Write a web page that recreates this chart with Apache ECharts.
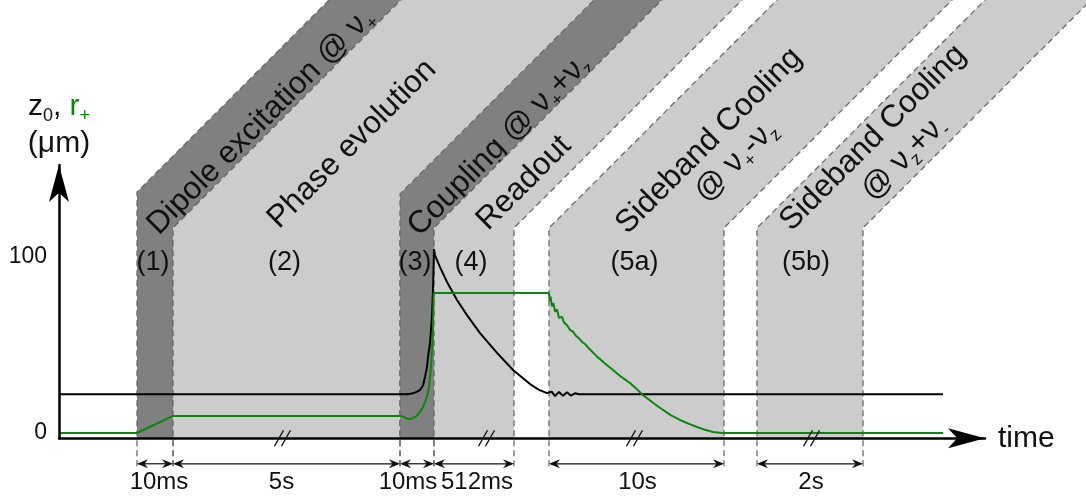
<!DOCTYPE html>
<html>
<head>
<meta charset="utf-8">
<script src="https://cdn.jsdelivr.net/npm/echarts@6/dist/echarts.min.js"></script>
<style>
  html, body { margin: 0; padding: 0; background: #ffffff; }
  #chart { width: 1086px; height: 503px; }
</style>
</head>
<body>
<div id="chart"></div>
<script>
// Measurement sequence on a broken (schematic) time axis, amplitudes in µm.
const phaseLabels    = ['(1)', '(2)', '(3)', '(4)', '(5a)', '(5b)'];
const phaseStart     = [78, 114, 341, 375, 490, 698];
const phaseEnd       = [114, 341, 375, 455, 665, 804];
const phaseDark      = [1, 0, 1, 0, 0, 0];
const phaseDurations = ['10ms', '5s', '10ms', '512ms', '10s', '2s'];
const phaseTitles = [
  ['{t|Dipole excitation @ ν}{s|+}'],
  ['{t|Phase evolution}'],
  ['{t|Coupling @ ν}{s|+}{t|+ν}{s|z}'],
  ['{t|Readout}'],
  ['{t|Sideband Cooling}', '{t|@ ν}{s|+}{t|-ν}{s|z}'],
  ['{t|Sideband Cooling}', '{t|@ ν}{s|z}{t|+ν}{s|-}']
];
const breakMarks  = [224, 428, 576, 753];
const yTickValues = [0, 100];

// axial amplitude z0
const z0Time  = [1, 300, 348, 353, 357, 361, 364, 366, 368, 369, 371, 372, 373, 374, 375,
                 376, 381, 388, 398, 408, 421, 438, 454, 471, 480, 488, 490,
                 493, 496, 500, 504, 508, 512, 516, 520, 884];
const z0Value = [22, 22, 22, 22.4, 23.2, 24.4, 27, 31.8, 37.5, 43.2, 51, 58.5, 67, 81.3, 104.5,
                 101, 94.3, 85.8, 75.6, 67, 56.8, 45.5, 35.8, 27.8, 24.5, 22.7, 22.3,
                 23.4, 21.0, 23.3, 21.1, 23.1, 21.2, 22.6, 22, 22];

// modified cyclotron radius r+
const rPlusTime  = [1, 78, 114, 341, 344, 347, 350, 353, 357, 361, 364, 366, 368, 370, 371, 372, 373, 374, 374.6, 375,
                    490, 490.7, 491.5, 493, 494.5, 496, 498, 500, 503, 505, 508, 511, 514, 517, 520, 523, 526,
                    530, 538, 546, 554, 562, 571, 578, 584, 594, 604, 612, 621, 630, 638, 646, 654, 663, 884];
const rPlusValue = [0, 0, 9.7, 9.7, 9.3, 8.4, 7.9, 8.1, 9.4, 11.9, 14.8, 17.5, 20.5, 26, 31.8, 38.5, 47.2, 60, 77, 79.5,
                    79.5, 75, 77.5, 72, 73.8, 69, 70.2, 65.5, 66, 62.8, 61.2, 58.6, 57.6, 55.2, 53.8, 51.8, 50.6,
                    48, 43.4, 39.5, 35.8, 32, 28.4, 24.8, 21.6, 17.2, 13.1, 10, 7.4, 5.2, 3.4, 1.8, 0.6, 0, 0];

// layout constants
const FONT = '"Liberation Sans", Arial, sans-serif';
const Y_MIN = -3, Y_MAX = 152.3, X_MAX = 926;
const KINK_VALUE = 116.5;        // height where band edges turn diagonal
const PHASE_LABEL_VALUE = 96.6;  // height of the (n) phase tags
const titleOffsets = [
  [[124, -107]],
  [[179, -84]],
  [[99, -83]],
  [[90, -45]],
  [[160, -87], [187, -67]],
  [[116, -90], [147, -70]]
];
const phaseLabelShift = [-2, -2, -2, -3, -2, -4];
const durationShift   = [4, -5, -9, 3, 1, 1];
const titleRich = {
  t: { fontSize: 31.5, fontFamily: FONT, fill: '#111', lineHeight: 38 },
  s: { fontSize: 18, fontFamily: FONT, fill: '#111', lineHeight: 18, verticalAlign: 'bottom' }
};

const chart = echarts.init(document.getElementById('chart'), null, { renderer: 'canvas' });

function bandItem(params, api) {
  const i = params.dataIndex;
  const a = api.coord([api.value(0), Y_MIN]);
  const b = api.coord([api.value(1), Y_MIN]);
  const base = a[1];
  const kink = api.coord([0, KINK_VALUE])[1];
  const x0 = a[0], x1 = b[0];
  const dark = api.value(2) === 1;
  const kL = dark ? kink - (x1 - x0) : kink;
  const rise = 700;
  const edge = { stroke: '#6a6a6a', lineWidth: 1.3, lineDash: [6, 4], fill: null };
  const children = [
    { type: 'polygon',
      shape: { points: [[x0, base], [x0, kL], [x0 + rise, kL - rise], [x1 + rise, kink - rise], [x1, kink], [x1, base]] },
      style: { fill: dark ? '#808080' : '#cccccc' } },
    { type: 'polyline', shape: { points: [[x0, base + 28], [x0, kL], [x0 + rise, kL - rise]] }, style: edge },
    { type: 'polyline', shape: { points: [[x1, base + 28], [x1, kink], [x1 + rise, kink - rise]] }, style: edge },
    { type: 'text', x: (x0 + x1) / 2 + phaseLabelShift[i], y: api.coord([0, PHASE_LABEL_VALUE])[1],
      style: { text: phaseLabels[i], fontSize: 27, fontFamily: FONT, fill: '#111', align: 'center', verticalAlign: 'middle' } }
  ];
  phaseTitles[i].forEach(function (line, j) {
    const off = titleOffsets[i][j];
    children.push({
      type: 'text', x: x0 + off[0], y: kink + off[1], rotation: Math.PI / 4,
      style: { text: line, rich: titleRich, align: 'center', verticalAlign: 'middle' }
    });
  });
  return { type: 'group', children: children };
}

function spanItem(params, api) {
  const i = params.dataIndex;
  const a = api.coord([api.value(0), Y_MIN]);
  const b = api.coord([api.value(1), Y_MIN]);
  const y = a[1] + 25.5;
  const head = function (x, dir) {
    return { type: 'polygon',
      shape: { points: [[x, y], [x + dir * 11, y - 4.5], [x + dir * 7.5, y], [x + dir * 11, y + 4.5]] },
      style: { fill: '#111' } };
  };
  return { type: 'group', children: [
    { type: 'line', shape: { x1: a[0] + 2, y1: y, x2: b[0] - 2, y2: y }, style: { stroke: '#111', lineWidth: 1.2 } },
    head(a[0], 1), head(b[0], -1),
    { type: 'text', x: (a[0] + b[0]) / 2 + durationShift[i], y: y + 19,
      style: { text: phaseDurations[i], fontSize: 24, fontFamily: FONT, fill: '#111', align: 'center', verticalAlign: 'middle' } }
  ] };
}

function breakItem(params, api) {
  const p = api.coord([api.value(0), Y_MIN]);
  const s = { stroke: '#111', lineWidth: 1.4 };
  return { type: 'group', children: [
    { type: 'line', shape: { x1: p[0] - 8.5, y1: p[1] + 8, x2: p[0] + 0.5, y2: p[1] - 8 }, style: s },
    { type: 'line', shape: { x1: p[0] - 1.5, y1: p[1] + 8, x2: p[0] + 7.5, y2: p[1] - 8 }, style: s }
  ] };
}

const bandData  = phaseStart.map(function (s, i) { return [s, phaseEnd[i], phaseDark[i]]; });
const spanData  = phaseStart.map(function (s, i) { return [s, phaseEnd[i]]; });
const breakData = breakMarks.map(function (x) { return [x]; });
const z0Data    = z0Time.map(function (t, i) { return [t, z0Value[i]]; });
const rPlusData = rPlusTime.map(function (t, i) { return [t, rPlusValue[i]]; });

const axisLineStyle = { color: '#000', width: 2.5 };

chart.setOption({
  animation: false,
  backgroundColor: '#ffffff',
  textStyle: { fontFamily: FONT },
  grid: { left: 59, right: 1086 - 59 - X_MAX, top: 165, bottom: 64.72, outerBoundsMode: 'none' },
  xAxis: {
    type: 'value', min: 0, max: X_MAX, z: 10,
    axisLine: { onZero: false, symbol: ['none', 'arrow'], symbolSize: [15, 37], lineStyle: axisLineStyle },
    axisTick: { show: false }, axisLabel: { show: false }, splitLine: { show: false },
    name: 'time', nameLocation: 'end', nameGap: 13,
    nameTextStyle: { fontSize: 30, color: '#111', fontFamily: FONT, verticalAlign: 'middle' }
  },
  yAxis: {
    type: 'value', min: Y_MIN, max: Y_MAX, z: 10,
    axisLine: { show: true, onZero: false, symbol: ['none', 'arrow'], symbolSize: [15, 37], lineStyle: axisLineStyle },
    axisTick: { show: false }, splitLine: { show: false },
    axisLabel: { customValues: yTickValues, fontSize: 23, color: '#111', margin: 12, fontFamily: FONT },
    name: '{k|z}{ks|0}{k|, }{g|r}{gs|+}\n{k|(μm)}', nameLocation: 'end', nameGap: 3,
    nameTextStyle: {
      align: 'center', verticalAlign: 'bottom', fontFamily: FONT,
      rich: {
        k:  { fontSize: 30, color: '#111', fontFamily: FONT, lineHeight: 37 },
        ks: { fontSize: 18, color: '#111', fontFamily: FONT, lineHeight: 18, verticalAlign: 'bottom' },
        g:  { fontSize: 30, color: '#0b870b', fontFamily: FONT, lineHeight: 37 },
        gs: { fontSize: 18, color: '#0b870b', fontFamily: FONT, lineHeight: 18, verticalAlign: 'bottom' }
      }
    }
  },
  series: [
    { type: 'custom', name: 'phases', z: 1, clip: false, silent: true, renderItem: bandItem, data: bandData },
    { type: 'custom', name: 'durations', z: 2, clip: false, silent: true, renderItem: spanItem, data: spanData },
    { type: 'line', name: 'z0', z: 4, data: z0Data, showSymbol: false, smooth: false,
      lineStyle: { color: '#000', width: 2 } },
    { type: 'line', name: 'r+', z: 5, data: rPlusData, showSymbol: false, smooth: false,
      lineStyle: { color: '#0b870b', width: 2 } },
    { type: 'custom', name: 'breaks', z: 11, clip: false, silent: true, renderItem: breakItem, data: breakData }
  ]
});
</script>
</body>
</html>
